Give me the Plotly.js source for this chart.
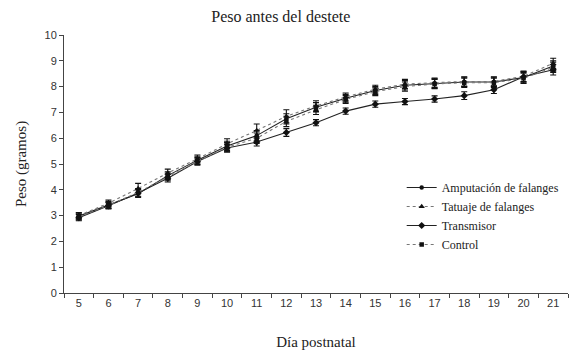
<!DOCTYPE html>
<html>
<head>
<meta charset="utf-8">
<script src="https://cdn.plot.ly/plotly-3.0.1.min.js"></script>
<style>html,body{margin:0;padding:0;background:#fff}#chart{width:579px;height:351px}</style>
</head>
<body>
<div id="chart"></div>
<script>
const days = ['5','6','7','8','9','10','11','12','13','14','15','16','17','18','19','20','21'];
const amputacion = [2.98, 3.42, 3.85, 4.55, 5.15, 5.70, 6.10, 6.75, 7.20, 7.55, 7.85, 8.05, 8.12, 8.18, 8.18, 8.35, 8.80];
const amputacionErr = [0.12, 0.12, 0.15, 0.15, 0.15, 0.18, 0.2, 0.2, 0.18, 0.15, 0.15, 0.18, 0.18, 0.18, 0.18, 0.2, 0.2];
const tatuaje = [3.00, 3.48, 4.05, 4.65, 5.20, 5.78, 6.30, 6.85, 7.25, 7.60, 7.90, 8.10, 8.15, 8.20, 8.20, 8.40, 8.90];
const tatuajeErr = [0.12, 0.12, 0.2, 0.15, 0.15, 0.2, 0.25, 0.25, 0.2, 0.15, 0.15, 0.18, 0.18, 0.18, 0.18, 0.2, 0.2];
const transmisor = [2.92, 3.38, 3.88, 4.45, 5.10, 5.62, 5.85, 6.22, 6.60, 7.05, 7.32, 7.42, 7.52, 7.65, 7.88, 8.38, 8.65];
const transmisorErr = [0.12, 0.12, 0.15, 0.15, 0.12, 0.15, 0.15, 0.15, 0.12, 0.12, 0.12, 0.12, 0.12, 0.15, 0.15, 0.2, 0.2];
const control = [2.95, 3.40, 3.90, 4.50, 5.10, 5.65, 6.00, 6.65, 7.10, 7.50, 7.80, 8.00, 8.10, 8.15, 8.15, 8.32, 8.75];
const controlErr = [0.12, 0.12, 0.15, 0.15, 0.15, 0.18, 0.2, 0.2, 0.18, 0.15, 0.15, 0.18, 0.18, 0.18, 0.18, 0.2, 0.2];
const names = ['Amputación de falanges', 'Tatuaje de falanges', 'Transmisor', 'Control'];

function tr(name, y, err, sym, dash, col, msize) {
  return {
    x: days, y: y, name: name, type: 'scatter', mode: 'lines+markers',
    line: {color: col, width: 1.1, dash: dash},
    marker: {symbol: sym, size: msize, color: '#111'},
    error_y: {type: 'data', array: err, visible: true, color: '#111', thickness: 1.1, width: 3}
  };
}
const data = [
  tr(names[0], amputacion, amputacionErr, 'circle', 'solid', '#222', 4.5),
  tr(names[1], tatuaje, tatuajeErr, 'triangle-up', 'dot', '#777', 5.5),
  tr(names[2], transmisor, transmisorErr, 'diamond', 'solid', '#222', 5.5),
  tr(names[3], control, controlErr, 'square', 'dot', '#777', 4.5)
];
const layout = {
  width: 579, height: 351,
  margin: {l: 64, r: 11, t: 35, b: 58},
  paper_bgcolor: '#fff', plot_bgcolor: '#fff',
  title: {text: 'Peso antes del destete', x: 0.485, xanchor: 'center', y: 0.97, yanchor: 'top',
          font: {family: 'Liberation Serif, serif', size: 16, color: '#222'}},
  xaxis: {
    type: 'category', range: [-0.5, 16.5], showgrid: false, zeroline: false,
    showline: true, linecolor: '#444', linewidth: 1,
    ticks: 'outside', ticklen: 4, tickcolor: '#444', tickson: 'boundaries',
    tickfont: {family: 'Liberation Sans, Arial, sans-serif', size: 11, color: '#333'},
    title: {text: 'Día postnatal', standoff: 28, font: {family: 'Liberation Serif, serif', size: 15, color: '#222'}}
  },
  yaxis: {
    range: [0, 10], dtick: 1, showgrid: false, zeroline: false,
    showline: true, linecolor: '#444', linewidth: 1,
    ticks: 'outside', ticklen: 4, tickcolor: '#444',
    tickfont: {family: 'Liberation Sans, Arial, sans-serif', size: 11, color: '#333'},
    title: {text: 'Peso (gramos)', standoff: 14, font: {family: 'Liberation Serif, serif', size: 15, color: '#222'}}
  },
  legend: {
    x: 0.67, y: 0.465, xanchor: 'left', yanchor: 'top', bgcolor: 'rgba(0,0,0,0)',
    font: {family: 'Liberation Serif, serif', size: 12, color: '#222'},
    tracegroupgap: 0, itemwidth: 30
  },
  showlegend: true
};
Plotly.newPlot('chart', data, layout, {displayModeBar: false, staticPlot: true});
</script>
</body>
</html>
